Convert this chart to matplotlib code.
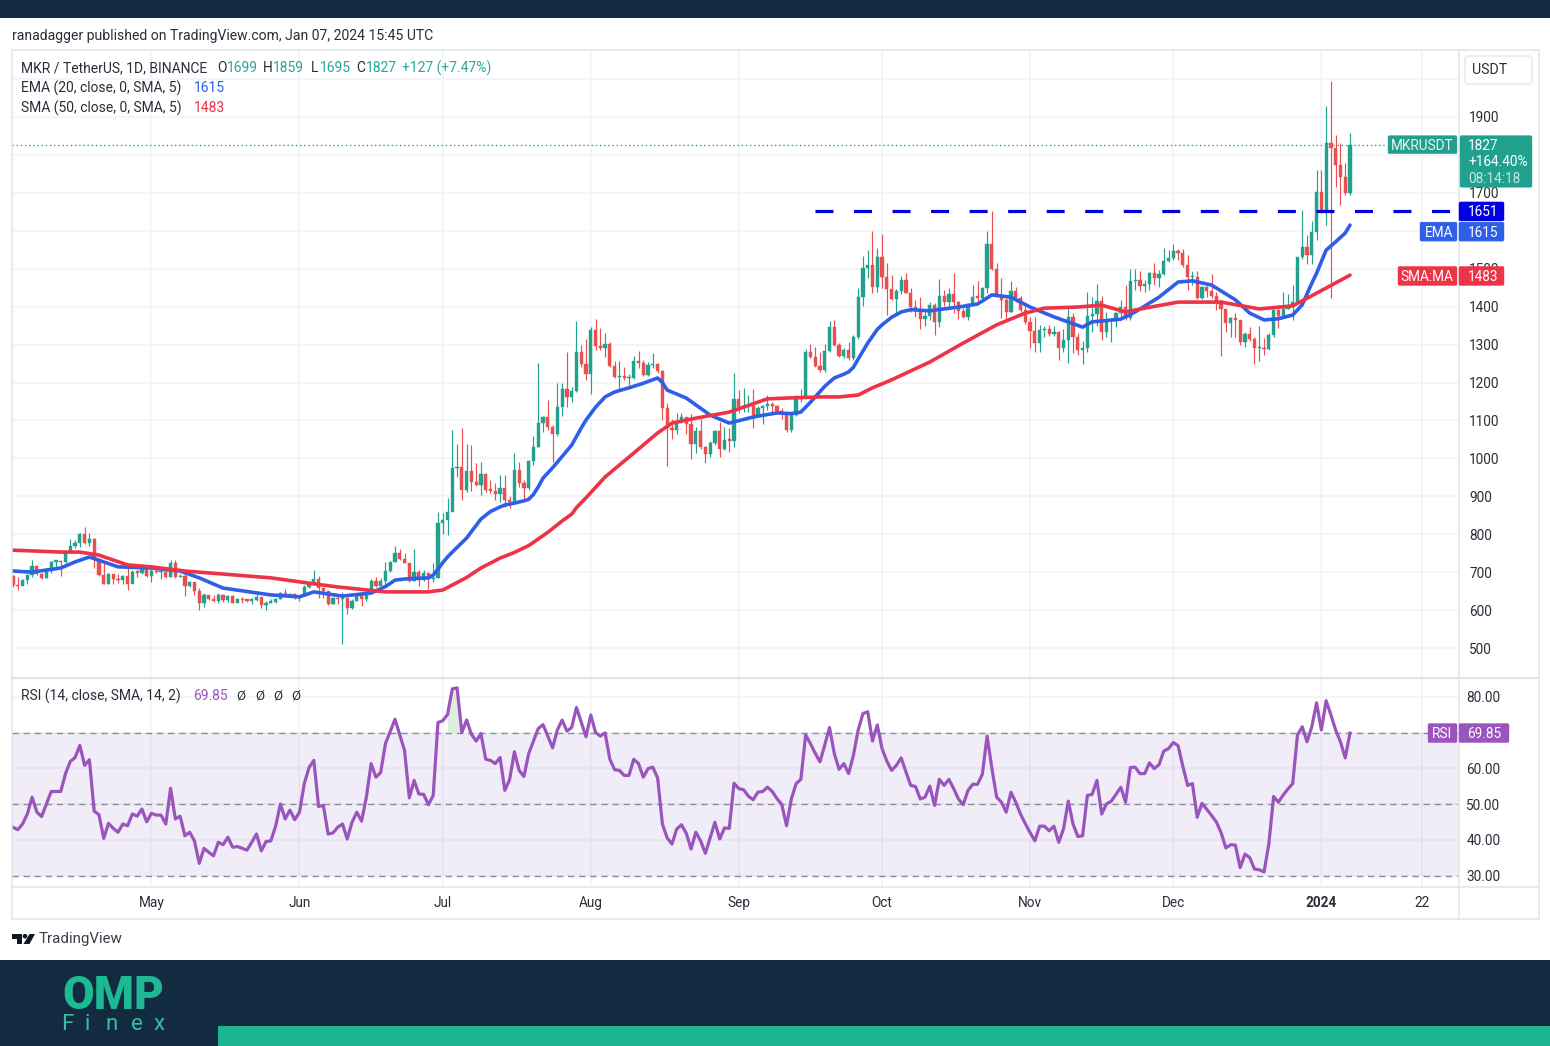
import matplotlib
matplotlib.use("Agg")
import matplotlib.pyplot as plt
from matplotlib.patches import Rectangle, FancyBboxPatch, Polygon, Circle
import numpy as np

W, H = 1550, 1046
plt.rcParams['font.family'] = ['Roboto', 'DejaVu Sans']

# ---------- data ----------
first_open = 690
closes = [666,664,679,692,716,694,684,706,728,729,726,751,770,776,801,776,787,734,692,670,
695,682,679,691,669,701,699,710,691,704,700,701,686,725,686,691,663,673,651,618,
640,629,625,640,627,638,620,628,627,625,627,634,613,620,622,628,644,640,642,631,
638,662,670,681,657,650,616,631,629,631,605,625,640,628,647,678,663,677,704,728,
751,734,725,677,701,679,697,682,685,830,838,858,974,978,917,967,938,930,960,917,
915,906,923,890,886,969,934,921,994,1031,1092,1108,1082,1063,1136,1182,1161,1178,1281,1249,
1222,1338,1295,1290,1302,1244,1215,1217,1211,1211,1258,1251,1220,1246,1249,1230,1132,1079,1075,1099,
1108,1090,1038,1073,1031,1011,1040,1073,1025,1048,1047,1156,1136,1138,1138,1114,1134,1138,1143,1138,
1126,1117,1076,1114,1156,1158,1281,1266,1244,1233,1284,1347,1299,1271,1287,1264,1321,1426,1501,1510,
1451,1532,1477,1447,1420,1440,1470,1437,1400,1391,1367,1376,1404,1359,1428,1413,1433,1413,1389,1374,
1407,1426,1424,1448,1565,1498,1431,1418,1387,1442,1422,1391,1360,1336,1305,1338,1340,1328,1334,1290,
1312,1372,1321,1286,1290,1376,1381,1416,1334,1363,1363,1382,1400,1369,1468,1470,1454,1461,1488,1475,
1486,1521,1527,1548,1541,1510,1477,1479,1422,1453,1441,1428,1416,1393,1356,1369,1365,1308,1328,1314,
1290,1292,1289,1325,1391,1375,1395,1402,1413,1530,1558,1536,1598,1701,1650,1831,1817,1773,1741,1699,1827]
highs = [692,686,681,694,732,720,699,710,729,729,729,753,787,785,802,818,804,789,732,723,
699,695,694,692,713,706,707,716,716,713,710,704,706,732,732,694,694,677,675,659,
644,640,640,644,642,641,640,631,634,628,631,642,635,625,628,631,648,655,646,644,
640,666,675,706,690,653,648,635,635,648,628,628,646,648,650,681,688,684,726,729,
770,760,751,725,761,706,707,690,723,858,857,895,1075,1038,1079,1038,1035,989,991,962,
943,936,956,956,900,1015,991,943,997,1059,1251,1112,1154,1088,1198,1198,1281,1187,1363,1299,
1314,1347,1367,1343,1330,1308,1257,1257,1242,1222,1270,1284,1259,1255,1279,1252,1233,1147,1103,1119,
1120,1108,1117,1084,1103,1033,1047,1075,1097,1084,1079,1226,1180,1185,1167,1182,1138,1141,1167,1149,
1138,1132,1120,1123,1167,1182,1288,1302,1294,1281,1302,1363,1365,1305,1290,1308,1325,1448,1534,1549,
1600,1554,1592,1514,1483,1446,1481,1488,1448,1418,1425,1388,1413,1409,1472,1444,1448,1488,1415,1396,
1410,1457,1468,1453,1600,1652,1516,1475,1422,1468,1451,1429,1404,1374,1372,1352,1349,1352,1349,1337,
1340,1398,1382,1330,1310,1438,1426,1460,1428,1387,1369,1387,1417,1457,1498,1498,1494,1470,1492,1514,
1497,1555,1549,1565,1551,1551,1536,1494,1494,1454,1454,1486,1439,1417,1395,1374,1382,1365,1334,1347,
1321,1349,1318,1330,1394,1395,1439,1433,1457,1532,1655,1589,1627,1760,1760,1929,1996,1853,1831,1778,1859]
lows = [662,653,669,670,688,692,681,684,699,710,690,723,754,763,767,774,770,710,690,669,
670,670,672,669,653,684,688,695,688,675,697,681,685,686,684,686,637,662,640,600,
609,627,622,620,622,622,618,622,620,621,616,625,605,600,618,618,628,637,634,629,
625,638,657,666,633,631,614,616,615,510,590,603,625,612,625,647,662,663,667,701,
726,732,723,675,678,663,678,655,675,684,800,798,886,952,890,912,915,927,903,912,
908,890,886,873,868,886,925,890,917,982,1029,1070,1075,991,1060,1112,1136,1149,1174,1242,
1207,1171,1286,1287,1268,1242,1213,1178,1207,1193,1208,1237,1217,1217,1237,1226,1101,981,1051,1064,
1094,1064,998,1015,1026,989,1003,1035,1003,1022,1018,1029,1119,1123,1123,1079,1108,1091,1127,1114,
1117,1103,1070,1070,1113,1148,1156,1264,1242,1228,1229,1281,1296,1268,1264,1259,1259,1315,1402,1475,
1435,1439,1448,1378,1418,1384,1433,1435,1387,1374,1340,1349,1365,1325,1347,1402,1400,1382,1367,1369,
1365,1404,1413,1420,1435,1497,1425,1369,1365,1385,1413,1387,1354,1292,1281,1281,1319,1323,1323,1259,
1281,1252,1277,1272,1249,1281,1334,1349,1312,1321,1308,1347,1369,1366,1366,1444,1442,1439,1444,1457,
1451,1483,1519,1523,1523,1505,1444,1457,1419,1419,1426,1424,1391,1270,1334,1321,1321,1299,1294,1310,
1250,1258,1272,1286,1321,1345,1374,1395,1366,1409,1526,1512,1512,1576,1646,1615,1424,1716,1668,1694,1695]

ema_days = [0,4,10,13,16,19,22,29,35,39,44,54,60,63,69,75,78,80,82,85,87,88,89,90,91,92,95,98,99,100,102,103,105,107,108,109,110,111,113,115,117,119,120,122,124,126,129,132,
135,136,137,141,146,150,155,160,163,165,167,168,170,172,174,175,176,177,179,181,182,184,186,188,192,198,202,205,209,213,218,224,226,232,235,240,244,247,
251,256,259,262,265,268,270,272,273,275,277,279,280]
ema_vals = [703,700,711,727,740,727,714,711,703,685,658,640,635,648,637,645,662,679,682,684,685,692,708,725,740,753,790,840,850,860,872,877,882,888,892,905,925,948,975,1005,1035,1080,1101,1135,1162,1175,1186,1198,
1212,1200,1180,1159,1114,1093,1109,1120,1118,1122,1148,1162,1190,1212,1222,1228,1240,1262,1304,1340,1352,1372,1386,1392,1389,1399,1407,1431,1425,1399,1373,1346,1360,1367,1386,1425,1465,1468,
1457,1418,1383,1365,1368,1378,1405,1462,1488,1549,1571,1594,1615]

sma_days = [0,10,14,18,24,29,36,54,62,68,78,87,90,92,95,98,102,105,108,112,115,117,118,120,124,130,135,138,143,150,158,162,169,173,177,180,
184,192,199,206,212,216,223,228,233,237,244,253,261,268,275,280]
sma_vals = [758,753,753,745,719,714,703,685,671,661,648,648,653,666,686,711,737,752,770,805,835,853,870,896,951,1014,1067,1093,1106,1122,1157,1159,1162,1162,1167,1186,
1207,1254,1304,1352,1383,1396,1399,1404,1386,1396,1412,1412,1394,1402,1449,1483]

rsi = [43.5,42.8,44.4,47.2,51.9,47.7,46.5,50,53.5,53.5,53.5,58.5,61.9,63,66.4,60.8,62.4,48,47,40.4,
44.6,43.2,42.1,44.4,43.9,47.2,46.6,48.6,45,47.4,46.9,46.9,44.4,54.4,45.8,46.6,41.1,42.1,39.7,33.4,
37.6,36.5,35.5,39.3,38.6,40.7,37.9,38.1,37.6,37.1,39.3,41.6,36.9,39.5,39.7,43.8,50,45.8,48.3,45.6,
47.7,55.7,60.2,62.2,49.3,49.6,41.6,41.9,43.5,44.4,40.2,44.9,47.7,45.2,51.9,61.3,57.5,58.8,66.9,70.3,
73.7,69.3,65,51.7,56.6,52.8,52.7,49.8,52.4,72.8,73.3,75,82.2,82.5,70,73.5,69.5,67.6,69.7,62.5,
62.2,61.3,63,53.8,56.8,64.6,59.4,57.7,64.1,67.6,71.1,72.2,69,65.7,70.7,73.5,70.4,71.4,77,72.9,
68.8,74.9,70,69,69.9,62.5,59.6,59.4,58,58,62.5,61.3,57.5,59.9,60.3,57.3,44.4,40.5,38.8,43,
44.2,41.8,37.4,42.1,39.7,36.2,40.5,44.9,40.2,43.3,43.2,55.8,54.3,54,52.2,51.2,53.3,53.5,54.7,53.5,
51.5,49.9,43.9,51.4,55.7,56.9,69.3,66.9,64.2,61.8,66.5,71.4,64.1,59.7,61.3,58.5,63.6,70.7,75.3,75.8,
67.6,72.1,65.5,62,59.4,60.8,62.9,59,55.2,54.9,51.4,51.9,55,49.6,56.9,55.2,56.9,54.3,51.4,49.8,
53.8,55.5,55.5,58.3,69,60,51.9,50.5,47.7,53.3,50.5,47.2,44.5,42,39.7,43.8,43.8,42.5,43.8,39.3,
43,50.8,44.4,40.9,41.1,52.4,52.7,56.6,47.2,50,50.8,52.7,54.7,50.5,60.2,60.3,58.5,58.5,61.5,59.9,
61,64.8,65.5,67.2,66.3,60.5,55.2,55.7,46.3,50.2,48.5,46.8,45,42,37.7,38.6,38.5,32.2,36,35,
31.8,31.6,31,38.8,52.1,50.5,52.5,54.2,55.7,69.3,71.6,67.4,71.6,78.3,70.7,78.9,74.9,70.7,67.4,62.9,69.85]
overbought_days = [91,92,93,94]

month_days = [29,60,90,121,152,182,213,243,274,295]
month_labels = ['May','Jun','Jul','Aug','Sep','Oct','Nov','Dec','2024','22']
price_ticks = list(range(500,2001,100))
hidden_price_labels = [1600,1800,2000]
rsi_ticks = [30,40,50,60,70,80]
last_price, resistance, ema_last, sma_last, rsi_last = 1827, 1651, 1615, 1483, 69.85
resistance_start_day = 168

# ---------- colours ----------
UP, DOWN = '#22a28e', '#ea4f4f'
BLUE, RED, PURPLE = '#2f5fe8', '#ee3347', '#9a55bd'
GRID, BORDER, INK = '#f1f3f7', '#e2e4ea', '#2a2e39'
NAVY, TEAL = '#122b40', '#1db591'

fig = plt.figure(figsize=(W/100, H/100), dpi=100, facecolor='white')
def rect(l, t, r, b):
    return [l/W, 1-b/H, (r-l)/W, (b-t)/H]

# day index maps to pixel 13 + 4.775*day
xl = ((12-13)/4.775, (1458-13)/4.775)

main = fig.add_axes(rect(12, 50, 1458, 677))
main.set_xlim(*xl)
main.set_ylim(1900-(677-117)*2.6364, 1900+(117-50)*2.6364)
days = np.arange(len(closes))
opens = np.array([first_open]+closes[:-1])
c, hi, lo = np.array(closes), np.array(highs), np.array(lows)
up = c >= opens
colors = np.where(up, UP, DOWN)
main.vlines(days, lo, hi, colors=colors, lw=0.85, zorder=3)
main.bar(days, np.maximum(np.abs(c-opens), 3), bottom=np.minimum(c, opens), width=0.68,
         color=colors, edgecolor=colors, lw=0.3, zorder=4)
main.plot(ema_days, ema_vals, color=BLUE, lw=2.6, zorder=5, solid_capstyle='round', solid_joinstyle='round')
main.plot(sma_days, sma_vals, color=RED, lw=2.6, zorder=5, solid_capstyle='round', solid_joinstyle='round')
main.plot([xl[0], len(closes)-1+7.8], [last_price]*2, color='#26a69a', lw=1.0, ls=(0, (1, 2)), zorder=2)
main.plot([resistance_start_day, xl[1]], [resistance]*2, color='#0000dc', lw=2.3, zorder=6,
          ls=(0, (18/3.2, 20.6/3.2)), dash_capstyle='butt')

main.set_yticks(price_ticks)
main.set_yticklabels(['' if p in hidden_price_labels else str(p) for p in price_ticks])
main.yaxis.tick_right()
main.set_xticks(month_days)
main.tick_params(axis='x', length=0, labelbottom=False)
main.tick_params(axis='y', length=0, pad=8, labelsize=9.8, labelcolor=INK)
main.grid(True, color=GRID, lw=1.1, zorder=0)
main.set_axisbelow(True)
for s in main.spines.values():
    s.set_visible(False)

pane = fig.add_axes(rect(12, 678, 1458, 886))
pane.set_xlim(*xl)
pane.set_ylim(30-(886-875.5)/3.575, 70+(732.5-678)/3.575)
pane.axhspan(30, 70, color='#7e57c2', alpha=0.10, lw=0, zorder=1)
for lvl in (70, 50, 30):
    pane.axhline(lvl, color='#8a8d96', lw=1, ls=(0, (4.5, 3.5)), zorder=2)
r = np.array(rsi)
od = np.array(overbought_days)
pane.fill_between(od, 70, r[od], color='#cfe8d3', alpha=.7, lw=0, zorder=2)
pane.plot(days, r, color=PURPLE, lw=2.3, zorder=4, solid_joinstyle='round')
pane.set_yticks(rsi_ticks)
pane.set_yticklabels([f'{v:.2f}' for v in rsi_ticks])
pane.yaxis.tick_right()
pane.set_xticks(month_days)
pane.set_xticklabels(month_labels)
pane.tick_params(axis='x', length=0, pad=7.5, labelsize=9.8, labelcolor=INK)
pane.tick_params(axis='y', length=0, pad=6, labelsize=9.8, labelcolor=INK)
for t in pane.get_xticklabels():
    if t.get_text() == '2024':
        t.set_fontweight('bold')
pane.grid(True, color=GRID, lw=1.1, zorder=0)
pane.set_axisbelow(True)
for s in pane.spines.values():
    s.set_visible(False)

# ---------- overlay in pixel coordinates ----------
ov = fig.add_axes([0, 0, 1, 1], zorder=20)
ov.set_xlim(0, W); ov.set_ylim(H, 0); ov.axis('off'); ov.patch.set_alpha(0)
def px_y(ax, v):
    return H - ax.transData.transform((0, v))[1]

ov.add_patch(Rectangle((0, 0), W, 18, color=NAVY, lw=0))
ov.add_patch(Rectangle((0, 960), W, 86, color=NAVY, lw=0))
ov.add_patch(Rectangle((218, 1026), W-218, 20, color=TEAL, lw=0))
ov.add_patch(Rectangle((11.5, 49.5), 1527, 869, fill=False, ec=BORDER, lw=1.1))
ov.plot([11.5, 1538.5], [677.5, 677.5], color=BORDER, lw=1.6)
ov.plot([11.5, 1538.5], [886.5, 886.5], color=BORDER, lw=1.1)
ov.plot([1458.5, 1458.5], [49.5, 918.5], color=BORDER, lw=1.1)

def T(x, y, s, color=INK, size=10.0, ha='left', **kw):
    return ov.text(x, y+1, s, color=color, fontsize=size, ha=ha, va='center', **kw)

T(12, 35, 'ranadagger published on TradingView.com, Jan 07, 2024 15:45 UTC', size=10.1)
G = '#26a69a'
T(21, 67, 'MKR / TetherUS, 1D, BINANCE')
for x, s, col in [(217,'O',INK),(227,'1699',G),(263,'H',INK),(273,'1859',G),(311,'L',INK),
                  (320,'1695',G),(356,'C',INK),(366,'1827',G),(402,'+127 (+7.47%)',G)]:
    T(x, 67, s, color=col)
T(21, 87, 'EMA (20, close, 0, SMA, 5)'); T(194, 87, str(ema_last), color=BLUE)
T(21, 107, 'SMA (50, close, 0, SMA, 5)'); T(194, 107, str(sma_last), color=RED)
T(21, 695, 'RSI (14, close, SMA, 14, 2)'); T(193, 695, f'{rsi_last:.2f}', color=PURPLE)
for x in (241, 260, 278, 296):
    T(x, 695, '\u00d8', ha='center', size=9.5)

ov.add_patch(FancyBboxPatch((1465, 56), 67, 28, boxstyle='round,pad=0,rounding_size=4',
                            fc='white', ec='#eceef3', lw=1.5))
T(1490, 69.5, 'USDT', ha='center', size=10.2)

def tag(x0, x1, y0, y1, col):
    ov.add_patch(FancyBboxPatch((x0, y0), x1-x0, y1-y0, boxstyle='round,pad=0,rounding_size=1.5',
                                fc=col, ec=col, lw=0.3, zorder=5))

yc = px_y(main, last_price)
tag(1388, 1457, yc-9, yc+9, '#22a08e'); T(1422, yc, 'MKRUSDT', color='#e8f7f3', ha='center', size=9.8, zorder=6)
tag(1460, 1532, yc-9, yc+42.5, '#22a08e')
T(1468, yc, str(last_price), color='white', size=9.8, zorder=6)
T(1468, yc+16.5, '+164.40%', color='white', size=9.8, zorder=6)
T(1468, yc+33, '08:14:18', color='#bfe8df', size=9.8, zorder=6)

yc = px_y(main, resistance)
tag(1459, 1504, yc-9.5, yc+9.5, '#0000e0'); T(1483, yc, str(resistance), color='white', ha='center', size=9.8, zorder=6)

# the EMA tag is pushed below the 1651 tag, as in the reference
yc = px_y(main, ema_last) + 6.5
tag(1420, 1457, yc-9.5, yc+9.5, BLUE); T(1439, yc, 'EMA', color='white', ha='center', size=9.8, zorder=6)
tag(1459, 1504, yc-9.5, yc+9.5, BLUE); T(1483, yc, str(ema_last), color='white', ha='center', size=9.8, zorder=6)

yc = px_y(main, sma_last) + 0.8
tag(1398, 1457, yc-9.5, yc+9.5, RED); T(1427, yc, 'SMA:MA', color='white', ha='center', size=9.8, zorder=6)
tag(1459, 1504, yc-9.5, yc+9.5, RED); T(1483, yc, str(sma_last), color='white', ha='center', size=9.8, zorder=6)

yc = px_y(pane, rsi_last)
tag(1428, 1457, yc-9.5, yc+9.5, PURPLE); T(1442, yc, 'RSI', color='white', ha='center', size=9.8, zorder=6)
tag(1459, 1509, yc-9.5, yc+9.5, PURPLE); T(1484, yc, f'{rsi_last:.2f}', color='white', ha='center', size=9.8, zorder=6)

# TradingView mark and name
K = '#131722'
ov.add_patch(Polygon([(12,934),(22,934),(22,944),(17,944),(17,938.5),(12,938.5)], color=K, lw=0))
ov.add_patch(Circle((25, 936.2), 2.3, color=K, lw=0))
ov.add_patch(Polygon([(29.5,934),(35,934),(29.5,944),(23.5,944)], color=K, lw=0))
T(39, 938.5, 'TradingView', color='#3a3e4a', size=10.9)

# OMP Finex logo
ov.text(113, 996, 'OMP', color='#1cb993', fontsize=33, fontweight='black', ha='center', va='center')
for x, s in [(67.5,'F'),(87,'i'),(112,'n'),(137,'e'),(159,'x')]:
    ov.text(x, 1025, s, color='#2fc0a6', fontsize=16, fontfamily='Roboto', fontweight='normal', ha='center', va='center')

fig.savefig('out.png', dpi=100, facecolor='white')
